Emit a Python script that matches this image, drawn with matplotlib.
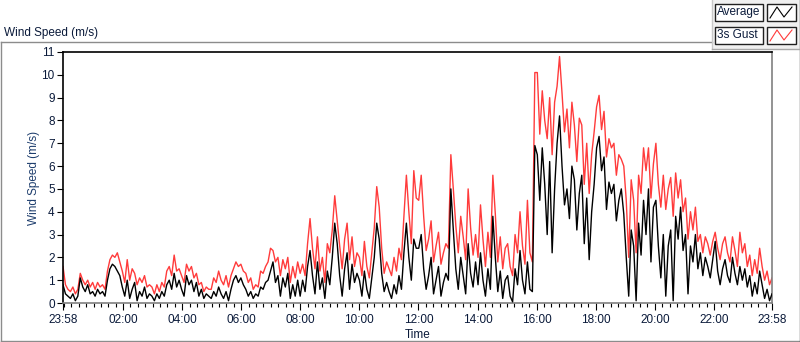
import matplotlib
matplotlib.use("Agg")
import matplotlib.pyplot as plt
import numpy as np
from matplotlib.patches import Rectangle

# 5-minute readings, 23:58 -> 23:58 next day (one row per hour)
avg_speed = [
    0.8, 0.4, 0.3, 0.2, 0.4, 0.1, 0.3, 1.1, 0.7, 0.5, 0.8, 0.4,
    0.5, 0.3, 0.6, 0.4, 0.5, 0.3, 1.0, 1.5, 1.7, 1.6, 1.4, 1.2,
    0.7, 0.3, 1.0, 0.2, 0.6, 0.9, 0.1, 0.5, 0.3, 0.7, 0.2, 0.4,
    0.3, 0.1, 0.4, 0.2, 0.5, 0.3, 0.8, 1.0, 0.6, 1.3, 0.7, 1.0,
    0.6, 0.3, 1.2, 0.8, 1.0, 0.5, 0.9, 0.3, 0.6, 0.2, 0.4, 0.3,
    0.2, 0.5, 0.3, 0.7, 0.4, 0.2, 0.5, 0.1, 0.6, 1.0, 1.2, 0.9,
    1.1, 0.8, 0.6, 0.3, 0.5, 0.2, 0.4, 0.3, 0.7, 0.6, 0.9, 1.0,
    1.4, 1.8, 0.9, 1.2, 0.3, 1.1, 0.7, 1.3, 0.2, 0.8, 0.3, 1.0,
    0.3, 1.0, 0.5, 1.6, 2.3, 1.2, 0.4, 1.8, 0.6, 1.1, 0.2, 1.4,
    0.8, 2.0, 3.5, 2.6, 1.2, 0.3, 1.5, 2.2, 0.6, 1.7, 0.9, 1.3,
    1.0, 0.3, 1.4, 0.6, 0.2, 1.1, 2.0, 3.5, 2.8, 1.3, 0.5, 0.9,
    0.5, 0.2, 0.8, 0.4, 1.2, 0.6, 2.2, 3.5, 2.0, 1.0, 2.8, 2.4,
    2.4, 3.0, 1.5, 0.6, 1.2, 2.0, 0.4, 1.0, 1.6, 0.3, 0.9, 1.3,
    1.0, 5.0, 3.2, 1.5, 0.6, 2.0, 1.2, 0.4, 2.6, 1.3, 0.7, 1.8,
    0.8, 2.2, 1.0, 0.3, 1.5, 0.6, 3.8, 2.0, 0.5, 1.4, 0.2, 1.0,
    1.2, 0.3, 0.05, 1.5, 0.8, 2.3, 1.0, 0.4, 1.8, 0.6, 0.5, 6.9,
    6.5, 4.5, 6.8, 5.2, 3.0, 6.2, 2.2, 5.0, 7.0, 8.2, 6.0, 4.3,
    5.0, 3.7, 6.0, 5.4, 3.2, 4.8, 5.6, 2.6, 4.6, 1.9, 4.0, 5.2,
    6.8, 7.3, 5.8, 6.4, 4.1, 5.3, 4.8, 5.2, 3.6, 4.5, 5.0, 3.9,
    2.0, 0.3, 3.2, 2.5, 0.1, 3.5, 2.1, 4.5, 3.0, 5.0, 1.8, 4.2,
    4.5, 2.5, 1.1, 3.0, 0.3, 2.5, 3.2, 0.1, 3.8, 2.8, 4.2, 2.3,
    3.0, 0.4, 2.5, 1.8, 3.0, 1.5, 2.2, 1.2, 2.0, 1.6, 1.1, 1.9,
    2.7, 1.4, 0.8, 1.5, 1.9, 1.2, 0.9, 2.0, 1.3, 0.8, 1.6, 1.0,
    1.5, 0.7, 1.2, 0.3, 0.9, 0.4, 1.4, 0.8, 0.2, 0.6, 0.1, 0.4,
]

gust_speed = [
    1.6, 0.8, 0.6, 0.5, 0.7, 0.4, 0.6, 1.3, 1.0, 0.8, 1.0, 0.7,
    0.9, 0.6, 0.9, 0.7, 0.8, 0.6, 1.4, 1.9, 2.1, 2.0, 2.2, 1.8,
    1.4, 0.9, 1.9, 1.0, 1.5, 1.3, 0.8, 1.1, 0.9, 1.2, 0.7, 0.8,
    0.7, 0.4, 0.8, 0.5, 0.9, 0.7, 1.4, 1.6, 1.2, 2.1, 1.4, 1.5,
    1.2, 0.9, 1.7, 1.4, 1.6, 1.1, 1.3, 0.8, 0.9, 0.5, 0.7, 0.6,
    0.6, 1.1, 0.9, 1.4, 1.0, 0.8, 1.2, 0.7, 1.2, 1.5, 1.8, 1.6,
    1.7, 1.4, 1.3, 0.9, 1.1, 0.6, 0.8, 0.7, 1.4, 1.3, 1.6, 1.8,
    2.4, 2.3, 1.8, 2.0, 1.2, 1.9, 1.5, 2.0, 0.9, 1.6, 1.1, 1.8,
    1.3, 1.7, 1.2, 2.6, 3.7, 2.4, 1.5, 2.9, 1.4, 2.0, 0.9, 2.6,
    2.2, 3.2, 4.7, 3.6, 2.5, 1.5, 2.8, 3.5, 1.9, 2.9, 1.6, 2.2,
    2.0, 1.2, 2.7, 1.6, 1.1, 2.2, 3.3, 5.1, 4.2, 2.4, 1.3, 1.8,
    1.5, 1.2, 2.0, 1.4, 2.4, 1.9, 3.8, 5.6, 4.0, 2.6, 5.8, 4.6,
    4.5, 5.6, 3.8, 2.3, 2.8, 3.6, 1.8, 2.5, 3.1, 1.7, 2.2, 2.6,
    2.4, 6.5, 5.0, 3.4, 2.2, 3.8, 2.9, 1.9, 5.0, 3.3, 2.1, 3.0,
    2.0, 4.3, 2.8, 1.6, 3.1, 2.0, 5.6, 3.9, 1.8, 2.9, 1.5, 2.4,
    2.6, 1.6, 1.2, 3.0, 2.2, 4.0, 2.5, 1.7, 4.5, 2.2, 1.8, 10.1,
    10.1, 7.4, 9.3, 8.0, 7.2, 9.0, 6.5, 8.8, 9.5, 10.8, 9.2, 7.5,
    8.5, 6.8, 8.8, 7.8, 6.2, 8.1, 7.8, 5.2, 7.0, 4.8, 6.5, 7.5,
    8.6, 9.1, 7.6, 8.4, 6.4, 7.2, 6.8, 7.0, 5.6, 6.5, 6.3, 6.0,
    4.5, 2.0, 5.4, 4.5, 2.2, 5.6, 4.8, 6.8, 5.8, 6.8, 4.6, 6.1,
    7.0, 5.2, 4.2, 5.6, 4.1, 5.0, 5.5, 3.8, 5.7, 4.6, 5.4, 4.0,
    4.6, 2.8, 4.0, 3.2, 4.2, 2.7, 3.0, 2.2, 2.9, 2.6, 2.1, 2.7,
    3.1, 2.4, 1.9, 2.6, 2.9, 2.2, 1.8, 2.9, 2.3, 1.6, 3.1, 2.2,
    2.6, 1.6, 2.1, 1.2, 1.9, 1.3, 2.4, 1.6, 1.0, 1.4, 0.8, 1.1,
]

tick_labels = ["23:58", "02:00", "04:00", "06:00", "08:00", "10:00", "12:00",
               "14:00", "16:00", "18:00", "20:00", "22:00", "23:58"]
series_names = ["Average", "3s Gust"]

W, H = 800, 342
plt.rcParams["font.family"] = ["Liberation Sans", "DejaVu Sans"]
fig = plt.figure(figsize=(W / 100, H / 100), dpi=100)
fig.patch.set_facecolor("white")

# plot area: x 63..772, y 52..303 (pixels)
ax = fig.add_axes([63 / W, 1 - 303 / H, 709 / W, 251 / H])

minutes = np.linspace(0, 1440, len(avg_speed))
ax.plot(minutes, gust_speed, color="#ff3b3b", lw=1.0, zorder=2)
ax.plot(minutes, avg_speed, color="black", lw=1.0, zorder=3)

start = 23 * 60 + 58
tick_pos = []
for i, lab in enumerate(tick_labels):
    h, m = map(int, lab.split(":"))
    p = (h * 60 + m - start) % 1440
    if i == len(tick_labels) - 1:
        p = 1440
    tick_pos.append(p)

ax.set_xlim(0, 1440)
ax.set_ylim(0, 11)
ax.set_xticks(tick_pos)
ax.set_xticklabels(tick_labels)
ax.set_xticks(np.arange(2, 1440, 15), minor=True)
ax.set_yticks(range(0, 12))

txt = "#0a1a3a"
ax.tick_params(axis="both", which="major", labelsize=8.5, colors="black",
               labelcolor=txt, direction="out", width=0.8)
ax.tick_params(axis="y", length=4, pad=2)
ax.tick_params(axis="x", length=5, pad=3)
ax.tick_params(axis="x", which="minor", length=3, width=0.8, direction="out")

ax.spines["top"].set_color("black")
ax.spines["left"].set_color("black")
ax.spines["right"].set_color("#808080")
ax.spines["bottom"].set_color("#808080")
for s in ax.spines.values():
    s.set_linewidth(1.2)

ax.set_ylabel("Wind Speed (m/s)", fontsize=8.5, color="#1d3d6d", labelpad=1)
ax.set_xlabel("Time", fontsize=8.5, color=txt, labelpad=2)

# frame, title and legend drawn in pixel space
ov = fig.add_axes([0, 0, 1, 1])
ov.set_xlim(0, W)
ov.set_ylim(H, 0)
ov.axis("off")
ov.patch.set_visible(False)

gray = "#8c8c8c"
ov.plot([0.5, 712], [42, 42], color=gray, lw=1)
ov.plot([0.5, 0.5], [42, 341], color=gray, lw=1)
ov.plot([0.5, 799.5], [341, 341], color=gray, lw=1)
ov.plot([799.5, 799.5], [0, 341], color="#505050", lw=1)
ov.text(4, 36, "Wind Speed (m/s)", fontsize=8.5, color=txt, va="baseline")

ov.add_patch(Rectangle((712, 0), 88, 49, facecolor="#f0f0f0",
                       edgecolor="none"))
ov.plot([712, 712], [0, 49], color="#c8c8c8", lw=1)
ov.plot([712, 800], [49, 49], color="#a8a8a8", lw=1)

for i, (name, col) in enumerate(zip(series_names, ["black", "#ff3b3b"])):
    y0 = 4 + i * 23
    ov.add_patch(Rectangle((715, y0), 48, 17, facecolor="white",
                           edgecolor="#202020", lw=1))
    ov.add_patch(Rectangle((767, y0), 29, 17, facecolor="white",
                           edgecolor="#202020", lw=1))
    ov.text(717, y0 + 8.5, name, fontsize=8.5, color=txt, va="center")
    ov.plot([770, 777, 784, 792], [y0 + 14, y0 + 3, y0 + 13, y0 + 3],
            color=col, lw=0.8)

fig.savefig("out.png", dpi=100)
